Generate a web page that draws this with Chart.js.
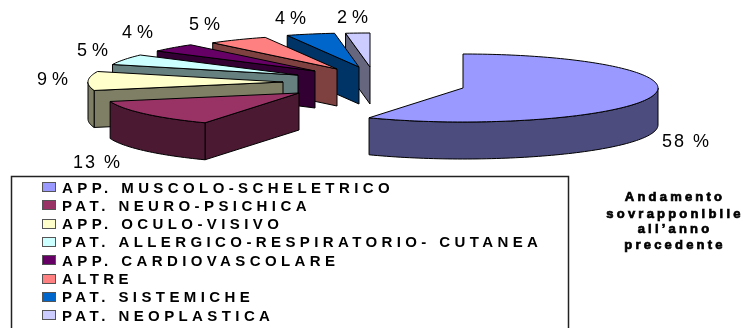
<!DOCTYPE html>
<html>
<head>
<meta charset="utf-8">
<style>
  html, body { margin: 0; padding: 0; background: #fff; }
  canvas { display: block; }
</style>
<script src="https://cdn.jsdelivr.net/npm/chart.js@4/dist/chart.umd.min.js"></script>
</head>
<body>
<canvas id="pie3d" width="744" height="328"></canvas>
<script>
const categories = ['APP. MUSCOLO-SCHELETRICO', 'PAT. NEURO-PSICHICA', 'APP. OCULO-VISIVO',
  'PAT. ALLERGICO-RESPIRATORIO- CUTANEA', 'APP. CARDIOVASCOLARE', 'ALTRE', 'PAT. SISTEMICHE', 'PAT. NEOPLASTICA'];
const percentages = [58, 13, 9, 5, 4, 5, 4, 2];
const noteLines = ['Andamento', 'sovrapponibile', 'all\u2019anno', 'precedente'];

const topColors = ['#9999FF', '#993366', '#FFFFCC', '#CCFFFF', '#660066', '#FF8080', '#0066CC', '#CCCCFF'];
const wallColors = ['#4C4C7F', '#4C1933', '#7F7F66', '#667F7F', '#330033', '#7F4040', '#003366', '#66667F'];

// how far each slice is pulled out of the pie, px
const explodeX = [0, -164, -180, -165, -148, -126, -104, -93];
const explodeY = [0, 5, -6, -13, -17, -19, -21, -21];
// where the percent labels sit (left, baseline)
const pctX = [662, 73, 37, 77, 122, 189, 275, 337];
const pctY = [147, 168, 85, 56, 38, 30, 24, 23];

const RADIUS = 195;
const TILT = 34 / 195;
const DEPTH = 37;

function px(arc, i, a) { return arc.x + explodeX[i] + RADIUS * Math.cos(a); }
function py(arc, i, a) { return arc.y + explodeY[i] + RADIUS * TILT * Math.sin(a); }

// outline of the rim from a0 to a1
function rimPath(ctx, arc, i, a0, a1, drop) {
  const steps = Math.max(2, Math.ceil(Math.abs(a1 - a0) * 40));
  for (let s = 0; s <= steps; s++) {
    const a = a0 + (a1 - a0) * s / steps;
    ctx.lineTo(px(arc, i, a), py(arc, i, a) + drop);
  }
}

function drawSlice(ctx, arc, i) {
  const start = arc.startAngle, end = arc.endAngle;
  const ax = arc.x + explodeX[i], ay = arc.y + explodeY[i];
  ctx.strokeStyle = '#000';
  ctx.lineWidth = 1;
  ctx.lineJoin = 'round';

  // cut face on the side turned to the viewer
  if (start > Math.PI / 2 && start < Math.PI * 1.5) {
    ctx.beginPath();
    ctx.moveTo(ax, ay);
    ctx.lineTo(px(arc, i, start), py(arc, i, start));
    ctx.lineTo(px(arc, i, start), py(arc, i, start) + DEPTH);
    ctx.lineTo(ax, ay + DEPTH);
    ctx.closePath();
    ctx.fillStyle = wallColors[i];
    ctx.fill();
    ctx.stroke();
  }

  // outer wall, only the front half of the ellipse shows
  const w0 = Math.max(start, 0), w1 = Math.min(end, Math.PI);
  if (w1 > w0) {
    ctx.beginPath();
    ctx.moveTo(px(arc, i, w0), py(arc, i, w0));
    rimPath(ctx, arc, i, w0, w1, 0);
    rimPath(ctx, arc, i, w1, w0, DEPTH);
    ctx.closePath();
    ctx.fillStyle = wallColors[i];
    ctx.fill();
    ctx.stroke();
  }

  // top face
  ctx.beginPath();
  ctx.moveTo(ax, ay);
  rimPath(ctx, arc, i, start, end, 0);
  ctx.closePath();
  ctx.fillStyle = topColors[i];
  ctx.fill();
  ctx.stroke();
}

const pie3d = {
  id: 'pie3d',
  beforeDatasetsDraw(chart) {
    const ctx = chart.ctx;
    const arcs = chart.getDatasetMeta(0).data;
    ctx.save();
    // back slices first, the big one last
    for (let i = arcs.length - 1; i >= 1; i--) drawSlice(ctx, arcs[i], i);
    drawSlice(ctx, arcs[0], 0);
    ctx.restore();
    return false;
  },
  afterDraw(chart) {
    const ctx = chart.ctx;
    ctx.save();
    ctx.textBaseline = 'alphabetic';

    // percent labels
    ctx.fillStyle = '#000';
    ctx.font = '18px "Liberation Sans"';
    percentages.forEach((v, i) => {
      ctx.letterSpacing = v >= 10 ? '2px' : '0px';
      ctx.fillText(v + ' %', pctX[i], pctY[i]);
    });

    // legend box, runs off the bottom of the picture
    ctx.letterSpacing = '0px';
    ctx.strokeStyle = '#222';
    ctx.lineWidth = 1.5;
    ctx.strokeRect(11.5, 176.5, 557, 170);
    ctx.font = 'bold 15px "Liberation Sans"';
    ctx.letterSpacing = '4.4px';
    categories.forEach((name, i) => {
      const y = 187 + i * 18.3;
      ctx.fillStyle = topColors[i];
      ctx.strokeStyle = '#555';
      ctx.lineWidth = 1;
      ctx.fillRect(42.5, Math.round(y) - 4.5, 13, 9);
      ctx.strokeRect(42.5, Math.round(y) - 4.5, 13, 9);
      ctx.fillStyle = '#000';
      ctx.fillText(name, 62, y + 5.5);
    });

    // side note
    ctx.font = '900 13px "Liberation Sans"';
    ctx.letterSpacing = '3.2px';
    ctx.textAlign = 'center';
    ctx.strokeStyle = '#000';
    ctx.lineWidth = 0.7;
    const noteY = [201, 218, 233, 249];
    noteLines.forEach((line, i) => {
      ctx.fillText(line, 675, noteY[i]);
      ctx.strokeText(line, 675, noteY[i]);
    });
    ctx.restore();
  }
};

new Chart(document.getElementById('pie3d'), {
  type: 'pie',
  data: {
    labels: categories,
    datasets: [{ data: percentages, backgroundColor: topColors, borderColor: '#000', borderWidth: 1 }]
  },
  options: {
    responsive: false,
    animation: false,
    radius: RADIUS,
    // puts the pie centre where the big slice has its point
    layout: { padding: { left: 182, bottom: 152 } },
    plugins: { legend: { display: false }, tooltip: { enabled: false } }
  },
  plugins: [pie3d]
});
</script>
</body>
</html>
